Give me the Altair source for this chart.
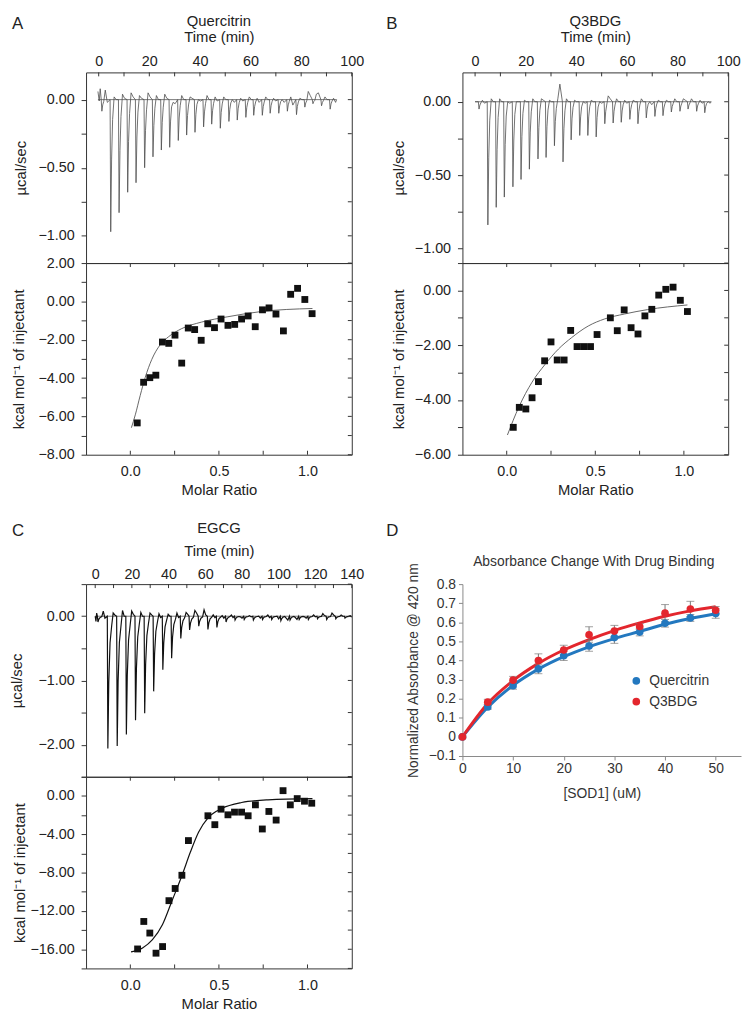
import altair as alt
import pandas as pd

FONT = "Liberation Sans"
INK = "#222222"
FRAME = "#333333"
BLUE = "#2378bf"
RED = "#e3262d"

# ---------------- Panel A : Quercitrin (raw thermogram) ----------------
A_inj_time = [1.0, 4.5, 7.8, 11.2, 14.5, 17.9, 21.2, 24.5, 27.8, 31.2, 34.5, 37.8, 41.2, 44.4,
              47.8, 51.2, 54.5, 57.9, 61.0, 64.4, 67.5, 70.9, 74.3, 77.9, 81.2, 84.4, 87.8, 91.2]
A_inj_peak = [-0.085, -0.97, -0.83, -0.68, -0.61, -0.50, -0.42, -0.37, -0.35, -0.30, -0.26, -0.24,
              -0.20, -0.18, -0.21, -0.16, -0.15, -0.13, -0.115, -0.115, -0.10, -0.10, -0.085,
              -0.11, -0.055, -0.03, -0.045, -0.07]
A_base_hi = [0.07, 0.02, 0.04, 0.05, 0.03, 0.05, 0.03, 0.04, -0.02, 0.03, 0.02, 0.00, 0.03, 0.02,
             0.02, 0.00, 0.01, 0.02, 0.01, 0.02, 0.01, 0.00, 0.02, 0.01, 0.06, 0.04, 0.02, 0.01]
A_base_lo = [-0.02, 0.00, 0.01, 0.02, 0.01, 0.02, 0.00, 0.01, -0.03, 0.00, 0.01, -0.01, 0.00, -0.01,
             0.00, -0.02, -0.01, 0.00, -0.02, 0.00, -0.01, -0.02, -0.04, 0.00, 0.03, 0.05, 0.00, -0.02]
A_start_time = [-0.3, 0.2, 0.6]
A_start_val = [0.06, -0.01, 0.08]
A_end_time = 94.0

# ---------------- Panel A : integrated heats ----------------
A_ratio = [0.039, 0.075, 0.110, 0.144, 0.181, 0.217, 0.252, 0.290, 0.327, 0.363, 0.400, 0.437,
           0.475, 0.512, 0.551, 0.589, 0.628, 0.665, 0.705, 0.746, 0.783, 0.822, 0.864, 0.905,
           0.944, 0.985, 1.026]
A_heat = [-6.34, -4.22, -3.98, -3.85, -2.12, -2.19, -1.76, -3.22, -1.39, -1.47, -2.03, -1.17,
          -1.37, -0.92, -1.25, -1.20, -0.92, -0.76, -1.32, -0.44, -0.34, -0.66, -1.54, 0.37,
          0.68, 0.10, -0.64]
A_fit_ratio = [0.006, 0.028, 0.056, 0.084, 0.121, 0.168, 0.215, 0.290, 0.402, 0.551, 0.738, 1.028]
A_fit_heat = [-6.59, -5.92, -4.90, -3.97, -3.03, -2.27, -1.85, -1.42, -1.08, -0.80, -0.53, -0.37]

# ---------------- Panel B : Q3BDG (raw thermogram) ----------------
B_inj_time = [1.3, 4.8, 8.1, 11.3, 14.7, 17.9, 21.2, 24.6, 27.8, 31.1, 34.5, 37.7, 41.1, 44.3,
              47.6, 51.0, 54.3, 57.5, 60.9, 64.1, 67.4, 70.8, 74.0, 77.3, 80.7, 83.9, 87.3, 90.5]
B_inj_peak = [-0.05, -0.84, -0.72, -0.65, -0.58, -0.53, -0.46, -0.39, -0.38, -0.30, -0.41, -0.26,
              -0.23, -0.23, -0.24, -0.15, -0.145, -0.14, -0.12, -0.15, -0.11, -0.10, -0.095,
              -0.07, -0.065, -0.05, -0.065, -0.075]
B_base_hi = [0.01, 0.02, 0.02, 0.00, 0.00, 0.01, 0.02, 0.02, 0.01, 0.02, 0.02, 0.01, 0.00, 0.01,
             0.00, 0.04, 0.02, 0.01, 0.01, 0.02, 0.00, 0.01, 0.01, 0.02, 0.02, 0.02, 0.01, 0.00]
B_base_lo = [-0.01, 0.00, 0.00, -0.01, 0.00, 0.00, 0.00, 0.01, 0.00, 0.12, 0.00, 0.00, -0.01, 0.00,
             -0.01, 0.02, 0.00, -0.01, 0.00, 0.00, -0.02, 0.00, 0.00, 0.00, 0.01, 0.00, -0.01, -0.01]
B_start_time = [0.0, 0.6]
B_start_val = [0.0, 0.0]
B_end_time = 93.3

# ---------------- Panel B : integrated heats ----------------
B_ratio = [0.037, 0.071, 0.108, 0.143, 0.179, 0.214, 0.250, 0.285, 0.324, 0.361, 0.397, 0.434,
           0.473, 0.510, 0.585, 0.624, 0.663, 0.702, 0.741, 0.780, 0.819, 0.858, 0.898, 0.939,
           0.980, 1.020]
B_heat = [-5.00, -4.27, -4.33, -3.92, -3.33, -2.57, -1.88, -2.54, -2.54, -1.46, -2.05, -2.05,
          -2.05, -1.61, -1.00, -1.47, -0.71, -1.36, -1.59, -0.93, -0.69, -0.17, 0.04, 0.12,
          -0.36, -0.77]
B_fit_ratio = [0.004, 0.069, 0.143, 0.218, 0.292, 0.367, 0.460, 0.553, 0.665, 0.795, 1.02]
B_fit_heat = [-5.28, -4.25, -3.35, -2.69, -2.14, -1.72, -1.30, -1.04, -0.86, -0.70, -0.53]

# ---------------- Panel C : EGCG (raw thermogram) ----------------
C_inj_time = [1.2, 6.6, 11.7, 16.7, 21.7, 26.7, 31.6, 36.6, 41.4, 46.4, 51.2, 56.2, 61.2, 66.1,
              71.1, 76.0, 81.0, 86.0, 91.0, 96.0, 101.0, 106.0, 111.0, 116.0, 121.0, 126.0,
              131.0, 136.0]
C_inj_peak = [-0.09, -2.06, -2.02, -1.84, -1.62, -1.51, -1.17, -0.835, -0.655, -0.345, -0.215,
              -0.155, -0.205, -0.175, -0.09, -0.06, -0.05, -0.06, -0.05, -0.05, -0.07, -0.06,
              -0.05, -0.05, -0.04, -0.05, -0.04, -0.03]
C_base_hi = [0.08, 0.05, 0.09, 0.08, 0.06, 0.05, 0.04, 0.03, 0.05, 0.06, 0.09, 0.10, 0.02, 0.01,
             0.02, -0.01, 0.01, 0.00, 0.02, 0.00, -0.03, -0.02, -0.01, 0.02, 0.04, 0.05, 0.02, 0.01]
C_base_lo = [-0.03, 0.02, 0.00, 0.03, 0.00, 0.02, -0.02, 0.00, -0.02, 0.03, 0.05, 0.02, -0.02,
             -0.03, -0.02, -0.03, -0.01, -0.03, -0.02, -0.04, -0.06, -0.05, -0.03, -0.01, 0.01,
             0.02, 0.00, -0.01]
C_start_time = [0.0, 0.4, 0.8]
C_start_val = [0.0, -0.08, 0.05]
C_end_time = 139.0

# ---------------- Panel C : integrated heats ----------------
C_ratio = [0.041, 0.076, 0.110, 0.145, 0.182, 0.218, 0.253, 0.291, 0.328, 0.438, 0.477, 0.512,
           0.551, 0.588, 0.628, 0.665, 0.706, 0.745, 0.782, 0.823, 0.862, 0.903, 0.942, 0.983, 1.024]
C_heat = [-15.97, -13.10, -14.31, -16.41, -15.72, -10.93, -9.66, -8.28, -4.66, -2.07, -3.00,
          -1.38, -1.97, -1.69, -1.69, -2.07, -0.93, -3.45, -1.62, -2.52, 0.55, -0.93, -0.28,
          -0.55, -0.76]
C_fit_ratio = [0.004, 0.069, 0.125, 0.181, 0.237, 0.292, 0.339, 0.385, 0.441, 0.516, 0.628, 0.777, 1.028]
C_fit_heat = [-16.28, -15.86, -15.0, -13.45, -10.86, -8.28, -5.86, -3.79, -2.24, -1.31, -0.69, -0.41, -0.28]

# ---------------- Panel D : absorbance ----------------
D_sod1 = [0, 5, 10, 15, 20, 25, 30, 35, 40, 45, 50]
D_quer = [0.0, 0.157, 0.268, 0.356, 0.425, 0.476, 0.520, 0.549, 0.595, 0.623, 0.646]
D_quer_err = [0.005, 0.012, 0.018, 0.025, 0.025, 0.027, 0.030, 0.020, 0.020, 0.018, 0.025]
D_quer_fit = [0.0, 0.155, 0.270, 0.355, 0.420, 0.472, 0.515, 0.552, 0.590, 0.620, 0.645]
D_q3 = [0.0, 0.182, 0.297, 0.400, 0.455, 0.535, 0.554, 0.578, 0.648, 0.670, 0.663]
D_q3_err = [0.005, 0.015, 0.020, 0.035, 0.025, 0.042, 0.030, 0.015, 0.045, 0.040, 0.020]
D_q3_fit = [0.0, 0.175, 0.295, 0.385, 0.455, 0.510, 0.557, 0.597, 0.632, 0.660, 0.682]
D_series = ["Quercitrin", "Q3BDG"]

# ---------------- helpers ----------------
# spike template: (time offset, fraction of the peak) -- drawing style only
SHAPE_AB = [(0.25, 1.0), (0.6, 0.45), (1.0, 0.15)]
SHAPE_C = [(0.3, 1.0), (0.8, 0.5), (1.5, 0.2), (2.4, 0.07)]


def build_trace(st, sv, inj_t, inj_p, hi, lo, end_t, shape, hi_dt, lo_dt):
    rows = list(zip(st, sv))
    for t, p, h, l in zip(inj_t, inj_p, hi, lo):
        rows.append((t, 0.0))
        for dt, frac in shape:
            rows.append((t + dt, p * frac))
        rows.append((t + hi_dt, h))
        rows.append((t + lo_dt, l))
    rows.append((end_t, 0.0))
    return pd.DataFrame({"i": range(len(rows)),
                         "t": [r[0] for r in rows],
                         "v": [r[1] for r in rows]})


def label_expr(step):
    return ("abs(datum.value/%s - round(datum.value/%s)) < 0.001 ? format(datum.value, '.2f') : ''"
            % (step, step))


def frange(a, b, s):
    n = int(round((b - a) / s))
    return [round(a + k * s, 6) for k in range(n + 1)]


W = 269


def itc_top(letter, title, trace, x0, x1, xdom, xlab, xminor, ydom, yvals, ystep,
            color, lw, H, label_pad, axis_title_pad, title_off, ytitle_pad, letter_dx, letter_dy):
    xs = alt.Scale(domain=xdom, nice=False, zero=False)
    ys = alt.Scale(domain=ydom, nice=False, zero=False)
    xaxis = alt.Axis(orient="top", values=xlab, format="d", ticks=False, tickSize=0, domain=False,
                     grid=False, labelFlush=False, labelFont=FONT, labelFontSize=14.5,
                     labelColor=INK, labelPadding=label_pad, title="Time (min)", titleFont=FONT,
                     titleFontSize=15, titleFontWeight="normal", titleColor=INK,
                     titlePadding=axis_title_pad)
    yaxis = alt.Axis(values=yvals, labelExpr=label_expr(ystep), tickSize=5, tickColor=FRAME,
                     tickWidth=1, domain=False, grid=False, labelFont=FONT, labelFontSize=14.5,
                     labelColor=INK, labelPadding=7, title="µcal/sec", titleFont=FONT,
                     titleFontSize=15, titleFontWeight="normal", titleColor=INK,
                     titlePadding=ytitle_pad)
    X = alt.X("t:Q", scale=xs, axis=xaxis)
    Y = alt.Y("v:Q", scale=ys, axis=yaxis)
    zero = alt.Chart(pd.DataFrame({"t": [x0], "t2": [x1], "v": [0.0]})).mark_rule(
        color="#555555", strokeWidth=0.8).encode(x=X, x2="t2:Q", y=Y)
    line = alt.Chart(trace).mark_line(color=color, strokeWidth=lw, clip=True).encode(
        x=X, y=Y, order="i:Q")
    top_ticks = alt.Chart(pd.DataFrame({"t": xminor})).mark_rule(color=FRAME, strokeWidth=1).encode(
        x=X, y=alt.value(0), y2=alt.value(4))
    right_ticks = alt.Chart(pd.DataFrame({"v": yvals})).mark_rule(color=FRAME, strokeWidth=1).encode(
        y=Y, x=alt.value(W), x2=alt.value(W - 4))
    lab = alt.Chart(pd.DataFrame({"s": [letter]})).mark_text(
        align="left", baseline="top", font=FONT, fontSize=17, color=INK).encode(
        text="s:N", x=alt.value(letter_dx), y=alt.value(letter_dy))
    return alt.layer(zero, line, top_ticks, right_ticks, lab).properties(
        width=W, height=H,
        title=alt.TitleParams(title, font=FONT, fontSize=15, fontWeight="normal", color=INK,
                              anchor="middle", frame="group", offset=title_off))


def itc_bottom(ratio, heat, fr, fh, ydom, yvals, ystep, fit_color, fit_w, H, ytitle_pad):
    xs = alt.Scale(domain=[-0.25, 1.25], nice=False, zero=False)
    ys = alt.Scale(domain=ydom, nice=False, zero=False)
    xaxis = alt.Axis(values=[0.0, 0.5, 1.0], format=".1f", ticks=False, tickSize=0, domain=False,
                     grid=False, labelFlush=False, labelFont=FONT, labelFontSize=14.5,
                     labelColor=INK, labelPadding=10, title="Molar Ratio", titleFont=FONT,
                     titleFontSize=15, titleFontWeight="normal", titleColor=INK, titlePadding=5)
    yaxis = alt.Axis(values=yvals, labelExpr=label_expr(ystep), tickSize=5, tickColor=FRAME,
                     tickWidth=1, domain=False, grid=False, labelFont=FONT, labelFontSize=14.5,
                     labelColor=INK, labelPadding=7, title="kcal mol⁻¹ of injectant",
                     titleFont=FONT, titleFontSize=15, titleFontWeight="normal", titleColor=INK,
                     titlePadding=ytitle_pad)
    X = alt.X("m:Q", scale=xs, axis=xaxis)
    Y = alt.Y("h:Q", scale=ys, axis=yaxis)
    pts = alt.Chart(pd.DataFrame({"m": ratio, "h": heat})).mark_square(
        size=48, color="#111111", opacity=1).encode(x=X, y=Y)
    fit = alt.Chart(pd.DataFrame({"m": fr, "h": fh})).mark_line(
        color=fit_color, strokeWidth=fit_w, interpolate="monotone").encode(x=X, y=Y)
    mr_ticks = pd.DataFrame({"m": frange(0.0, 1.0, 0.25)})
    top_ticks = alt.Chart(mr_ticks).mark_rule(color=FRAME, strokeWidth=1).encode(
        x=X, y=alt.value(0), y2=alt.value(4))
    bot_ticks = alt.Chart(mr_ticks).mark_rule(color=FRAME, strokeWidth=1).encode(
        x=X, y=alt.value(H), y2=alt.value(H - 4))
    right_ticks = alt.Chart(pd.DataFrame({"h": yvals})).mark_rule(color=FRAME, strokeWidth=1).encode(
        y=Y, x=alt.value(W), x2=alt.value(W - 4))
    return alt.layer(fit, pts, top_ticks, bot_ticks, right_ticks).properties(width=W, height=H)


# ---------------- build panels ----------------
A_trace = build_trace(A_start_time, A_start_val, A_inj_time, A_inj_peak, A_base_hi, A_base_lo,
                      A_end_time, SHAPE_AB, 1.6, 2.4)
B_trace = build_trace(B_start_time, B_start_val, B_inj_time, B_inj_peak, B_base_hi, B_base_lo,
                      B_end_time, SHAPE_AB, 1.6, 2.4)
C_trace = build_trace(C_start_time, C_start_val, C_inj_time, C_inj_peak, C_base_hi, C_base_lo,
                      C_end_time, SHAPE_C, 3.2, 4.1)

TOP_H, BOT_H, SPACER_H, COL_GAP = 193, 194, 131, 112

A_top = itc_top("A", "Quercitrin", A_trace, A_start_time[0], A_end_time, [-5, 100],
                frange(0, 100, 20), frange(0, 100, 10), [-1.2, 0.2], frange(-1.0, 0.0, 0.25), 0.5,
                "#4d4d4d", 0.8, TOP_H, 4, 9, -14.5, 10, -75, -57)
A_bot = itc_bottom(A_ratio, A_heat, A_fit_ratio, A_fit_heat, [-8, 2], frange(-8, 2, 1), 2,
                   "#555555", 0.9, BOT_H, 12)
B_top = itc_top("B", "Q3BDG", B_trace, B_start_time[0], B_end_time, [-5, 100],
                frange(0, 100, 20), frange(0, 100, 10), [-1.1, 0.2], frange(-1.0, 0.0, 0.25), 0.5,
                "#4d4d4d", 0.8, TOP_H, 4, 9, -14.5, 8, -77, -57)
B_bot = itc_bottom(B_ratio, B_heat, B_fit_ratio, B_fit_heat, [-6, 1], frange(-6, 1, 1), 2,
                   "#555555", 0.9, BOT_H, 8)
C_top = itc_top("C", "EGCG", C_trace, C_start_time[0], C_end_time, [-5, 140],
                frange(0, 140, 20), frange(0, 140, 10), [-2.5, 0.5], frange(-2.5, 0.5, 0.5), 1,
                "#111111", 1.2, 195, 3, 8, -14, 14, -75, -62)
C_bot = itc_bottom(C_ratio, C_heat, C_fit_ratio, C_fit_heat, [-18, 2], frange(-18, 2, 2), 4,
                   "#111111", 1.2, BOT_H, 3)

# panel D
D_rows = []
for name, vals, errs, fits in [("Quercitrin", D_quer, D_quer_err, D_quer_fit),
                               ("Q3BDG", D_q3, D_q3_err, D_q3_fit)]:
    for x, v, e, f in zip(D_sod1, vals, errs, fits):
        D_rows.append({"x": x, "y": v, "lo": v - e, "hi": v + e, "fit": f, "series": name})
D_df = pd.DataFrame(D_rows)

DW, DH = 282, 174
dxs = alt.Scale(domain=[0, 55], nice=False, zero=False)
dys = alt.Scale(domain=[-0.1, 0.8], nice=False, zero=False)
d_xaxis = alt.Axis(values=D_sod1[::2], format="d", tickSize=4, tickColor="#888888",
                   domainColor="#888888", grid=False, labelFlush=False, labelFont=FONT,
                   labelFontSize=14, labelColor="#333333", labelPadding=2, title="[SOD1] (uM)",
                   titleFont=FONT, titleFontSize=14, titleFontWeight="normal",
                   titleColor="#333333", titlePadding=11)
d_yaxis = alt.Axis(values=frange(-0.1, 0.8, 0.1), format=".1~f", tickSize=4, tickColor="#888888",
                   domainColor="#888888", grid=False, labelFont=FONT, labelFontSize=14,
                   labelColor="#333333", labelPadding=3, title="Normalized Absorbance @ 420 nm",
                   titleFont=FONT, titleFontSize=14, titleFontWeight="normal",
                   titleColor="#333333", titlePadding=8)
cscale = alt.Scale(domain=D_series, range=[BLUE, RED])
DX = alt.X("x:Q", scale=dxs, axis=d_xaxis)

# legend is placed relative to the origin of the whole grid (top-left of panel A's plot)
LEG_X = W + COL_GAP + 169
LEG_Y = TOP_H + BOT_H + SPACER_H + 91

d_fit_q = alt.Chart(D_df[D_df["series"] == "Quercitrin"]).mark_line(
    strokeWidth=3, interpolate="monotone", color=BLUE).encode(
    x=DX, y=alt.Y("fit:Q", scale=dys, axis=d_yaxis))
d_fit_r = alt.Chart(D_df[D_df["series"] == "Q3BDG"]).mark_line(
    strokeWidth=3, interpolate="monotone", color=RED).encode(
    x=DX, y=alt.Y("fit:Q", scale=dys, axis=d_yaxis))
d_err = alt.Chart(D_df).mark_rule(color="#777777", strokeWidth=1).encode(
    x=DX, y=alt.Y("lo:Q", scale=dys, axis=d_yaxis), y2="hi:Q")
d_cap_hi = alt.Chart(D_df).mark_tick(color="#777777", thickness=1, size=8, orient="horizontal").encode(
    x=DX, y=alt.Y("hi:Q", scale=dys, axis=d_yaxis))
d_cap_lo = alt.Chart(D_df).mark_tick(color="#777777", thickness=1, size=8, orient="horizontal").encode(
    x=DX, y=alt.Y("lo:Q", scale=dys, axis=d_yaxis))
d_pts = alt.Chart(D_df).mark_circle(size=60, opacity=1).encode(
    x=DX, y=alt.Y("y:Q", scale=dys, axis=d_yaxis),
    color=alt.Color("series:N", scale=cscale,
                    legend=alt.Legend(orient="none", legendX=LEG_X, legendY=LEG_Y, title=None,
                                      labelFont=FONT, labelFontSize=14, labelColor="#333333",
                                      symbolType="circle", symbolSize=60, rowPadding=7,
                                      labelOffset=6, padding=0, symbolOpacity=1)))
d_lab = alt.Chart(pd.DataFrame({"s": ["D"]})).mark_text(
    align="left", baseline="top", font=FONT, fontSize=17, color=INK).encode(
    text="s:N", x=alt.value(-77), y=alt.value(-62))

D_chart = alt.layer(d_fit_q, d_fit_r, d_err, d_cap_hi, d_cap_lo, d_pts, d_lab).properties(
    width=DW, height=DH, view=alt.ViewBackground(stroke="transparent"),
    title=alt.TitleParams("Absorbance Change With Drug Binding", font=FONT, fontSize=14,
                          fontWeight="normal", color="#333333", anchor="middle", frame="group",
                          offset=-48, dx=-8))


# invisible spacer cells between the two rows of panels
def spacer():
    return alt.Chart(pd.DataFrame({"a": [0]})).mark_point(opacity=0).encode(
        x=alt.value(0), y=alt.value(0)).properties(
        width=W, height=SPACER_H, view=alt.ViewBackground(stroke="transparent"))


grid = alt.ConcatChart(
    concat=[A_top, B_top, A_bot, B_bot, spacer(), spacer(), C_top, D_chart, C_bot],
    columns=2, bounds="flush", spacing=alt.RowColnumber(row=0, column=COL_GAP))

chart = grid.properties(padding=0).configure_view(stroke=FRAME, strokeWidth=1)

chart.save("out.html", embed_options={"renderer": "svg", "actions": False})
